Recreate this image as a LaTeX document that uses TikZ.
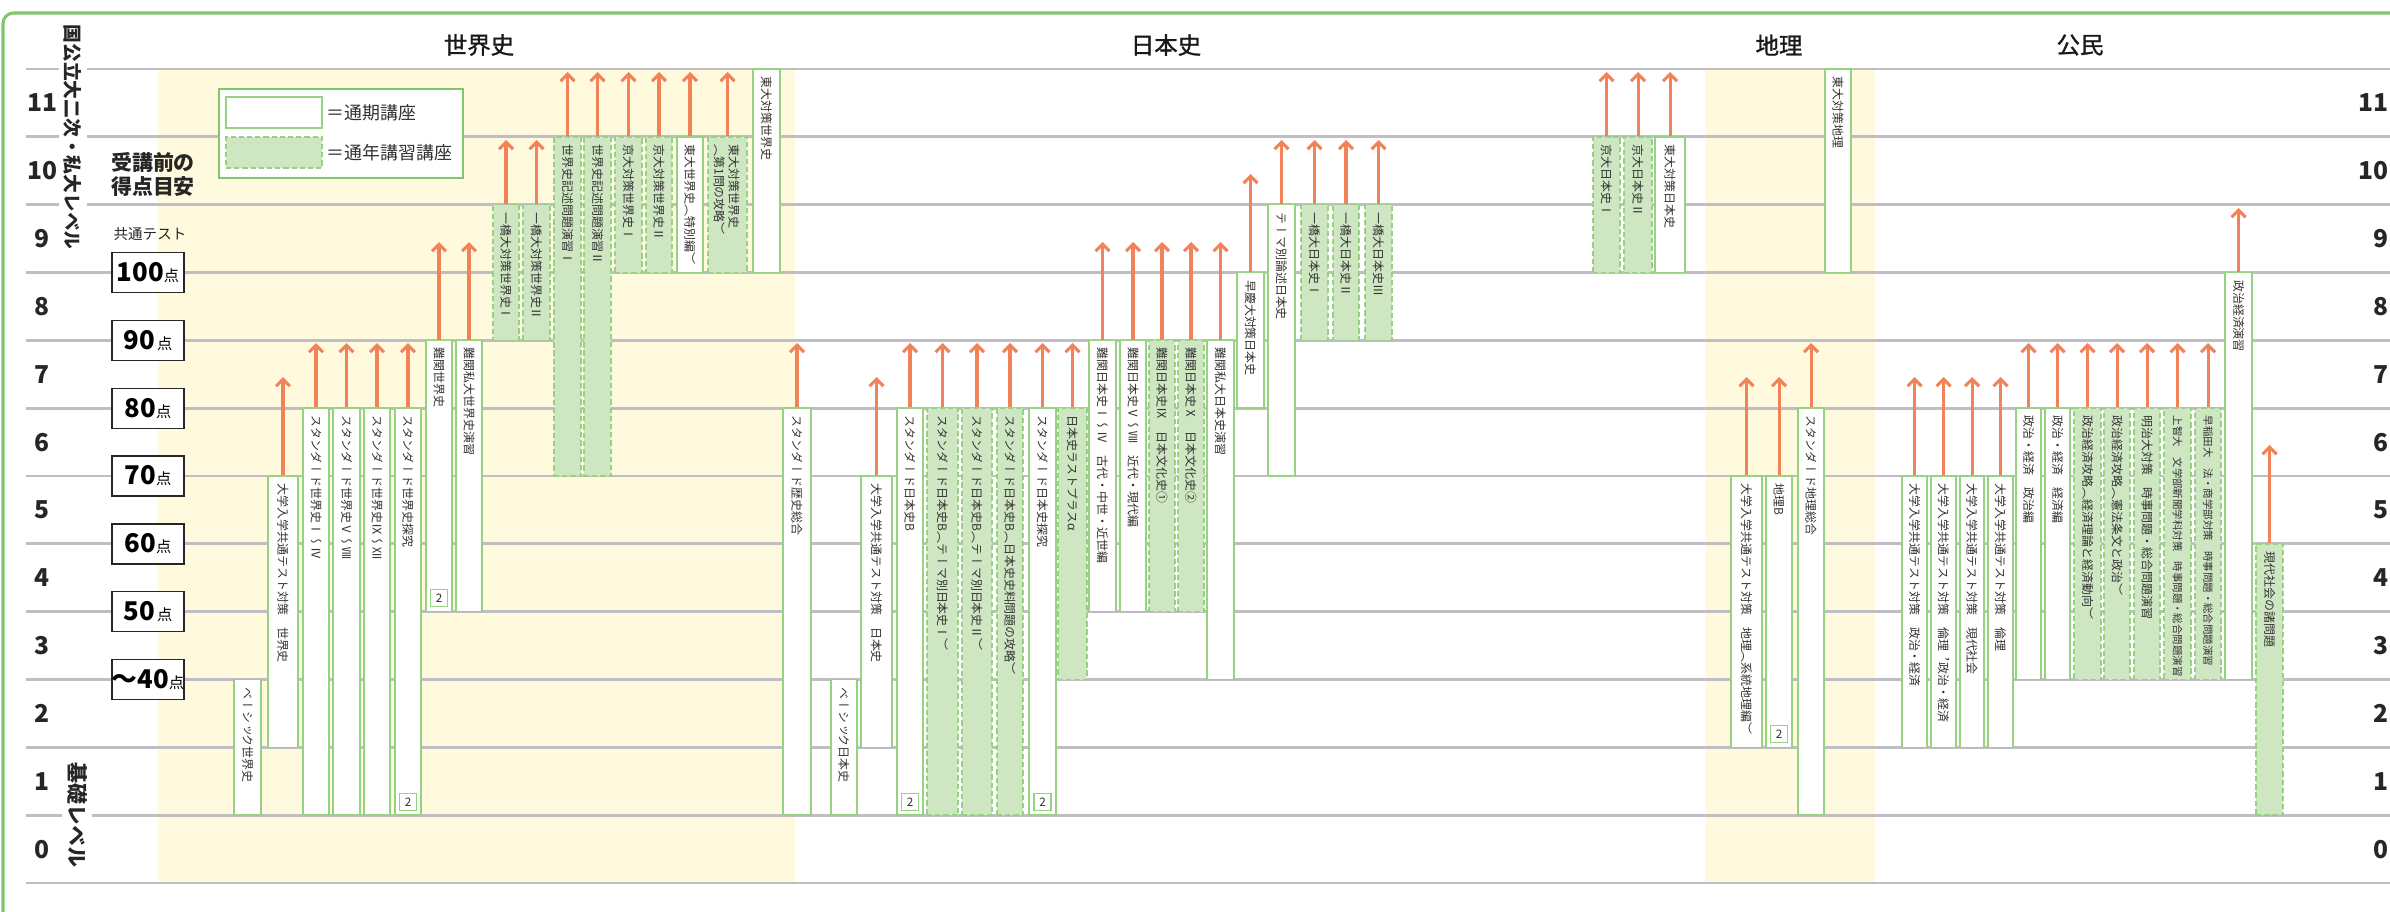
\documentclass[tikz,border=0pt]{standalone}
\usepackage{fontspec}
\setmainfont{Noto Sans CJK JP}
\newfontfamily\jpv[Vertical=RotatedGlyphs]{Noto Sans CJK JP}
\newfontfamily\headfont[FakeBold=1.2]{Noto Sans CJK JP}
\usetikzlibrary{arrows.meta,fit}
\definecolor{framegreen}{RGB}{128,198,108}
\definecolor{boxline}{RGB}{150,210,130}
\definecolor{boxfill}{RGB}{206,230,194}
\definecolor{band}{RGB}{255,250,222}
\definecolor{rulegray}{RGB}{190,190,196}
\definecolor{ink}{RGB}{50,50,50}
\definecolor{arrowc}{RGB}{242,130,90}

\begin{document}
\begin{tikzpicture}[
  x=0.03cm, y=-0.03cm,
  hline/.style={draw=rulegray, line width=2.5pt},
  plain/.style={draw=boxline, fill=white, line width=1.3pt, inner sep=0pt},
  year/.style={draw=boxline, fill=boxfill, line width=1.3pt,
    dash pattern=on 4.5pt off 2.5pt, inner sep=0pt},
  vt/.style={yshift=-7pt, rotate=-90, anchor=west, inner sep=0pt, text=ink,
    font=\jpv\fontsize{10.2pt}{12pt}\selectfont},
  vts/.style={vt, font=\jpv\fontsize{8.9pt}{10pt}\selectfont},
  arr/.style={draw=arrowc, line width=2.6pt,
    -{Straight Barb[length=6pt,width=12pt]}},
  two/.style={draw=boxline, fill=white, line width=0.9pt, minimum size=0.51cm,
    inner sep=0pt, text=ink, font=\fontsize{10pt}{10pt}\selectfont},
  score/.style={draw=black!85, fill=white, line width=1.2pt,
    minimum width=2.16cm, minimum height=1.2cm, inner sep=0pt},
  lvnum/.style={text=black!85, font=\bfseries\fontsize{21pt}{21pt}\selectfont},
  head/.style={text=black!90, font=\headfont\fontsize{20pt}{20pt}\selectfont},
  sidetitle/.style={rotate=-90, anchor=west, fill=white, inner xsep=2pt,
    inner ysep=4pt, text=black!85, font=\jpv\bfseries\fontsize{16pt}{16pt}\selectfont}
]
\useasboundingbox (0,0) rectangle (2390,911);

% bands and level rules
\fill[band] (158,69) rectangle (795,883);
\fill[band] (1705,69) rectangle (1875,883);
\foreach \k in {0,...,12}
  \draw[hline] (26,{883-67.833*\k}) -- (2400,{883-67.833*\k});
\draw[draw=framegreen, line width=2.6pt, rounded corners=9pt]
  (3,13) rectangle (2430,930);

\foreach \k in {0,...,11} {
  \node[lvnum] (ll\k) at (42,{883-67.833*(\k+0.5)}) {\k};
  \node[lvnum, anchor=east, inner sep=0pt] (lr\k) at (2389,{883-67.833*(\k+0.5)}) {\k};
}

\coordinate (t12) at (0,72);
\coordinate (t11) at (0,140);
\coordinate (t105) at (0,174);
\coordinate (t10) at (0,208);
\coordinate (t95) at (0,242);
\coordinate (t8) at (0,343);
\coordinate (t75) at (0,377);
\coordinate (t65) at (0,445);

% headings
\node[head] (hw) at (479,45) {世界史};
\node[head] (hj) at (1166,45) {日本史};
\node[head] (hg) at (1779,45) {地理};
\node[head] (hc) at (2080,45) {公民};

\node[sidetitle] (lvhigh) at (73,22) {国公立大二次・私大レベル};
\node[sidetitle, font=\jpv\bfseries\fontsize{17.9pt}{18pt}\selectfont]
  (lvbase) at (77,760) {基礎レベル};

\node[text=black!85, align=center,
  font=\bfseries\fontsize{17.9pt}{20.4pt}\selectfont] (guide) at (153,174)
  {受講前の\\得点目安};
\node[text=black!85, font=\fontsize{12.4pt}{12.4pt}\selectfont]
  (kyotsu) at (150,234) {共通テスト};

\node[score] (s100) at (148,272.5) {{\bfseries\fontsize{22pt}{22pt}\selectfont 100}{\fontsize{13pt}{13pt}\selectfont 点}};
\node[score] (s90) at (148,340.3) {{\bfseries\fontsize{22pt}{22pt}\selectfont 90}\,{\fontsize{13pt}{13pt}\selectfont 点}};
\node[score] (s80) at (148,408.2) {{\bfseries\fontsize{22pt}{22pt}\selectfont 80}{\fontsize{13pt}{13pt}\selectfont 点}};
\node[score] (s70) at (148,476) {{\bfseries\fontsize{22pt}{22pt}\selectfont 70}{\fontsize{13pt}{13pt}\selectfont 点}};
\node[score] (s60) at (148,543.8) {{\bfseries\fontsize{22pt}{22pt}\selectfont 60}{\fontsize{13pt}{13pt}\selectfont 点}};
\node[score] (s50) at (148,611.7) {{\bfseries\fontsize{22pt}{22pt}\selectfont 50}\,{\fontsize{13pt}{13pt}\selectfont 点}};
\node[score] (s40) at (148,679.5) {{\bfseries\fontsize{22pt}{22pt}\selectfont ～40}{\fontsize{13pt}{13pt}\selectfont 点}};

% legend
\node[draw=framegreen, line width=2.4pt, fill=white, inner sep=0pt,
  fit={(219,89)(463,178)}] (legend) {};
\node[plain, fit={(226,97)(322,128)}] (keyterm) {};
\node[year, fit={(226,137)(322,168)}] (keyyear) {};
\node[anchor=west, text=ink, font=\fontsize{15.3pt}{16pt}\selectfont]
  at (keyterm.east) {＝通期講座};
\node[anchor=west, text=ink, font=\fontsize{15.3pt}{16pt}\selectfont]
  at (keyyear.east) {＝通年講習講座};

% world history
\node[plain,fit={(234,679.5)(261,815.2)}] (w1) {};
\node[vt] at (w1.north) {ベーシック世界史};
\node[plain,fit={(268,476)(298,747.3)}] (w2) {};
\node[vt] at (w2.north) {大学入学共通テスト対策　世界史};
\node[plain,fit={(303,408.2)(329,815.2)}] (w3) {};
\node[vt] at (w3.north) {スタンダード世界史Ⅰ～Ⅳ};
\node[plain,fit={(333,408.2)(360,815.2)}] (w4) {};
\node[vt] at (w4.north) {スタンダード世界史Ⅴ～Ⅷ};
\node[plain,fit={(364,408.2)(390,815.2)}] (w5) {};
\node[vt] at (w5.north) {スタンダード世界史Ⅸ～Ⅻ};
\node[plain,fit={(395,408.2)(421,815.2)}] (w6) {};
\node[vt] at (w6.north) {スタンダード世界史探究};
\node[plain,fit={(426,340.3)(452,611.7)}] (w7) {};
\node[vt] at (w7.north) {難関世界史};
\node[plain,fit={(456,340.3)(482,611.7)}] (w8) {};
\node[vt] at (w8.north) {難関私大世界史演習};
\node[year,fit={(493,204.7)(519,340.3)}] (w9) {};
\node[vt] at (w9.north) {一橋大対策世界史Ⅰ};
\node[year,fit={(523,204.7)(550,340.3)}] (w10) {};
\node[vt] at (w10.north) {一橋大対策世界史Ⅱ};
\node[year,fit={(554,136.8)(581,476)}] (w11) {};
\node[vt] at (w11.north) {世界史記述問題演習Ⅰ};
\node[year,fit={(584,136.8)(611,476)}] (w12) {};
\node[vt] at (w12.north) {世界史記述問題演習Ⅱ};
\node[year,fit={(615,136.8)(642,272.5)}] (w13) {};
\node[vt] at (w13.north) {京大対策世界史Ⅰ};
\node[year,fit={(646,136.8)(672,272.5)}] (w14) {};
\node[vt] at (w14.north) {京大対策世界史Ⅱ};
\node[plain,fit={(677,136.8)(703,272.5)}] (w15) {};
\node[vt] at (w15.north) {東大世界史（特別編）};
\node[year,fit={(708,136.8)(747,272.5)}] (w16) {};
\node[vt] at ([xshift=5.5pt]w16.north) {東大対策世界史};
\node[vt] at ([xshift=-7.2pt]w16.north) {（第1問の攻略）};
\node[plain,fit={(753,69)(780,272.5)}] (w17) {};
\node[vt] at (w17.north) {東大対策世界史};
\node[plain,fit={(783,408.2)(811,815.2)}] (w18) {};
\node[vt] at (w18.north) {スタンダード歴史総合};

% japanese history
\node[plain,fit={(831,679.5)(857,815.2)}] (j1) {};
\node[vt] at (j1.north) {ベーシック日本史};
\node[plain,fit={(861,476)(892,747.3)}] (j2) {};
\node[vt] at (j2.north) {大学入学共通テスト対策　日本史};
\node[plain,fit={(897,408.2)(923,815.2)}] (j3) {};
\node[vt] at (j3.north) {スタンダード日本史B};
\node[year,fit={(927,408.2)(958,815.2)}] (j4) {};
\node[vt] at (j4.north) {スタンダード日本史B（テーマ別日本史Ⅰ）};
\node[year,fit={(962,408.2)(992,815.2)}] (j5) {};
\node[vt] at (j5.north) {スタンダード日本史B（テーマ別日本史Ⅱ）};
\node[year,fit={(997,408.2)(1023,815.2)}] (j6) {};
\node[vt] at (j6.north) {スタンダード日本史B（日本史史料問題の攻略）};
\node[plain,fit={(1029,408.2)(1056,815.2)}] (j7) {};
\node[vt] at (j7.north) {スタンダード日本史探究};
\node[year,fit={(1058,408.2)(1087,679.5)}] (j8) {};
\node[vt] at (j8.north) {日本史ラストプラスα};
\node[plain,fit={(1089,340.3)(1116,611.7)}] (j9) {};
\node[vt] at (j9.north) {難関日本史Ⅰ～Ⅳ　古代・中世・近世編};
\node[plain,fit={(1120,340.3)(1146,611.7)}] (j10) {};
\node[vt] at (j10.north) {難関日本史Ⅴ～Ⅷ　近代・現代編};
\node[year,fit={(1149,340.3)(1175,611.7)}] (j11) {};
\node[vt] at (j11.north) {難関日本史Ⅸ　日本文化史①};
\node[year,fit={(1178,340.3)(1204,611.7)}] (j12) {};
\node[vt] at (j12.north) {難関日本史Ⅹ　日本文化史②};
\node[plain,fit={(1207,340.3)(1234,679.5)}] (j13) {};
\node[vt] at (j13.north) {難関私大日本史演習};
\node[plain,fit={(1237,272.5)(1264,408.2)}] (j14) {};
\node[vt] at (j14.north) {早慶大対策日本史};
\node[plain,fit={(1268,204.7)(1295,476)}] (j15) {};
\node[vt] at (j15.north) {テーマ別論述日本史};
\node[year,fit={(1301,204.7)(1328,340.3)}] (j16) {};
\node[vt] at (j16.north) {一橋大日本史Ⅰ};
\node[year,fit={(1333,204.7)(1359,340.3)}] (j17) {};
\node[vt] at (j17.north) {一橋大日本史Ⅱ};
\node[year,fit={(1365,204.7)(1392,340.3)}] (j18) {};
\node[vt] at (j18.north) {一橋大日本史Ⅲ};
\node[year,fit={(1593,136.8)(1620,272.5)}] (j19) {};
\node[vt] at (j19.north) {京大日本史Ⅰ};
\node[year,fit={(1624,136.8)(1652,272.5)}] (j20) {};
\node[vt] at (j20.north) {京大日本史Ⅱ};
\node[plain,fit={(1655,136.8)(1685,272.5)}] (j21) {};
\node[vt] at (j21.north) {東大対策日本史};

% geography
\node[plain,fit={(1731,476)(1762,747.3)}] (g1) {};
\node[vt] at (g1.north) {大学入学共通テスト対策　地理（系統地理編）};
\node[plain,fit={(1766,476)(1792,747.3)}] (g2) {};
\node[vt] at (g2.north) {地理B};
\node[plain,fit={(1798,408.2)(1824,815.2)}] (g3) {};
\node[vt] at (g3.north) {スタンダード地理総合};
\node[plain,fit={(1825,69)(1851,272.5)}] (g4) {};
\node[vt] at (g4.north) {東大対策地理};

% civics
\node[plain,fit={(1902,476)(1927,747.3)}] (c1) {};
\node[vt] at (c1.north) {大学入学共通テスト対策　政治・経済};
\node[plain,fit={(1931,476)(1956,747.3)}] (c2) {};
\node[vt] at (c2.north) {大学入学共通テスト対策　倫理，政治・経済};
\node[plain,fit={(1960,476)(1984,747.3)}] (c3) {};
\node[vt] at (c3.north) {大学入学共通テスト対策　現代社会};
\node[plain,fit={(1988,476)(2013,747.3)}] (c4) {};
\node[vt] at (c4.north) {大学入学共通テスト対策　倫理};
\node[plain,fit={(2016,408.2)(2041,679.5)}] (c5) {};
\node[vt] at (c5.north) {政治・経済　政治編};
\node[plain,fit={(2045,408.2)(2070,679.5)}] (c6) {};
\node[vt] at (c6.north) {政治・経済　経済編};
\node[year,fit={(2074,408.2)(2101,679.5)}] (c7) {};
\node[vt] at (c7.north) {政治経済攻略（経済理論と経済動向）};
\node[year,fit={(2104,408.2)(2130,679.5)}] (c8) {};
\node[vt] at (c8.north) {政治経済攻略（憲法条文と政治）};
\node[year,fit={(2134,408.2)(2160,679.5)}] (c9) {};
\node[vt] at (c9.north) {明治大対策　時事問題・総合問題演習};
\node[year,fit={(2164,408.2)(2191,679.5)}] (c10) {};
\node[vts] at (c10.north) {上智大　文学部新聞学科対策　時事問題・総合問題演習};
\node[year,fit={(2195,408.2)(2221,679.5)}] (c11) {};
\node[vts] at (c11.north) {早稲田大　法・商学部対策　時事問題・総合問題演習};
\node[plain,fit={(2225,272.5)(2252,679.5)}] (c12) {};
\node[vt] at (c12.north) {政治経済演習};
\node[year,fit={(2256,543.8)(2283,815.2)}] (c13) {};
\node[vt] at (c13.north) {現代社会の諸問題};

% two-term badges
\foreach \b in {w6,w7,j3,j7,g2}
  \node[two] (\b two) at ([yshift=12pt]\b.south) {2};

% arrows
\foreach \b in {w2,j2,g1,g2,c1,c2,c3,c4}
  \draw[arr] (\b.north) -- (\b.north |- t75);
\foreach \b in {w3,w4,w5,w6,w18,j3,j4,j5,j6,j7,j8,g3,c5,c6,c7,c8,c9,c10,c11}
  \draw[arr] (\b.north) -- (\b.north |- t8);
\foreach \b in {w7,w8,j9,j10,j11,j12,j13}
  \draw[arr] (\b.north) -- (\b.north |- t95);
\foreach \b in {w9,w10,j15,j16,j17,j18}
  \draw[arr] (\b.north) -- (\b.north |- t11);
\foreach \b in {w11,w12,w13,w14,w15,w16,j19,j20,j21}
  \draw[arr] (\b.north) -- (\b.north |- t12);
\draw[arr] (j14.north) -- (j14.north |- t105);
\draw[arr] (c12.north) -- (c12.north |- t10);
\draw[arr] (c13.north) -- (c13.north |- t65);
\end{tikzpicture}
\end{document}
